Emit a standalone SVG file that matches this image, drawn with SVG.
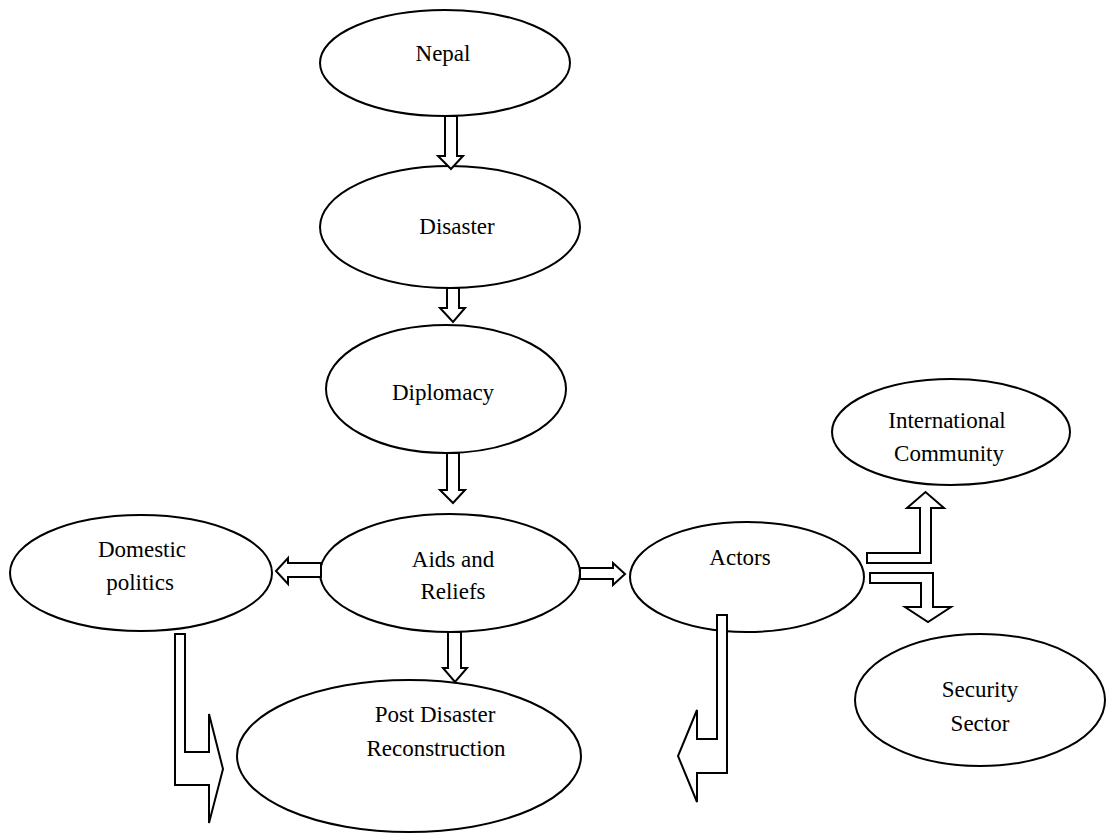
<svg xmlns="http://www.w3.org/2000/svg" width="1109" height="835" viewBox="0 0 1109 835">
<style>
.n ellipse{fill:#fff;stroke:#000;stroke-width:2}
text{font-family:"Liberation Serif","Times New Roman",serif;font-size:23px;fill:#000;text-anchor:middle}
.c path{fill:#fff;stroke:#000;stroke-width:2;stroke-linejoin:miter}
</style>
<rect width="1109" height="835" fill="#fff"/>
<g class="n" id="nepal"><ellipse cx="445" cy="63" rx="125" ry="53"/><text x="443" y="61">Nepal</text></g>
<g class="n" id="disaster"><ellipse cx="450" cy="227" rx="130" ry="61"/><text x="457" y="234">Disaster</text></g>
<g class="n" id="diplomacy"><ellipse cx="446" cy="389" rx="120" ry="64"/><text x="443" y="400">Diplomacy</text></g>
<g class="n" id="aids"><ellipse cx="450" cy="573" rx="130" ry="59"/><text x="453" y="567">Aids and</text><text x="453" y="599">Reliefs</text></g>
<g class="n" id="domestic"><ellipse cx="141" cy="573" rx="131" ry="58"/><text x="142" y="557">Domestic</text><text x="140" y="590">politics</text></g>
<g class="n" id="actors"><ellipse cx="747" cy="577" rx="117" ry="55"/><text x="740" y="565">Actors</text></g>
<g class="n" id="intl"><ellipse cx="951" cy="432" rx="119" ry="53"/><text x="947" y="428">International</text><text x="949" y="461">Community</text></g>
<g class="n" id="security"><ellipse cx="980" cy="700" rx="125" ry="66"/><text x="980" y="697">Security</text><text x="980" y="731">Sector</text></g>
<g class="n" id="post"><ellipse cx="409" cy="756" rx="172" ry="76"/><text x="435" y="722">Post Disaster</text><text x="436" y="756">Reconstruction</text></g>
<g class="c" id="connectors">
<path d="M445,116 L457,116 L457,156 L463,156 L451,169 L438,156 L445,156 Z"/>
<path d="M447,288 L459,288 L459,308 L465,308 L453,322 L440,308 L447,308 Z"/>
<path d="M447,453 L459,453 L459,490 L465,490 L453,503 L440,490 L447,490 Z"/>
<path d="M448,632 L461,632 L461,668 L467,668 L455,682 L443,668 L448,668 Z"/>
<path d="M321,563 L321,577 L288,577 L288,584 L276,571 L288,558 L288,563 Z"/>
<path d="M580,568 L613,568 L613,563 L625,574 L613,585 L613,579 L580,579 Z"/>
<path d="M175,634 L185,634 L185,752 L209,752 L209,714 L223,769 L209,823 L209,785 L175,785 Z"/>
<path d="M717,615 L727,615 L727,773 L697,773 L697,802 L678,756 L697,710 L697,739 L717,739 Z"/>
<path d="M867,553 L920,553 L920,508 L907,508 L925.5,492 L944,508 L931,508 L931,563 L867,563 Z"/>
<path d="M870,573 L933,573 L933,607 L951,607 L928,622 L905,607 L921,607 L921,583 L870,583 Z"/>
</g>
</svg>
